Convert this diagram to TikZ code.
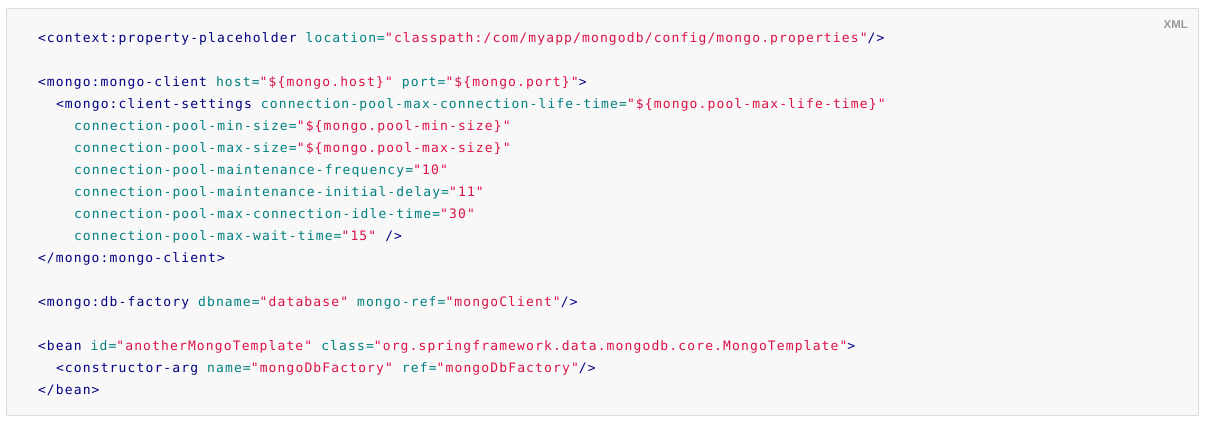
\documentclass[tikz,border=0pt]{standalone}
\usepackage{fontspec}
\usepackage{xcolor}
\newfontfamily\codefont[LetterSpace=8.7]{DejaVu Sans Mono}
\newfontfamily\tagfont{Liberation Sans}
\definecolor{xmltag}{HTML}{000080}
\definecolor{xmlattr}{HTML}{008080}
\definecolor{xmlstr}{HTML}{DD1144}
\definecolor{codebg}{HTML}{F8F8F8}
\definecolor{codeframe}{HTML}{DDDDDD}
\newcommand\xtag[1]{\textcolor{xmltag}{#1}}
\newcommand\xattr[1]{\textcolor{xmlattr}{#1}}
\newcommand\xstr[1]{\textcolor{xmlstr}{#1}}
\begin{document}
\begin{tikzpicture}[x=1pt,y=-1pt]
\tikzset{ codeline/.style={anchor=base west, inner sep=0pt, outer sep=0pt, font=\codefont\fontsize{13}{14}\selectfont} }

\useasboundingbox (0,0) rectangle (1205,423);

%%% Fundo
\draw [codeframe, fill=codebg] (6.5,8.5) rectangle (1198.5,415.5);
\node [anchor=base east, inner sep=0pt, text=black!40, font=\tagfont\bfseries\fontsize{11.4}{12}\selectfont] (lang) at (1188,28) {XML};

%%% Linhas

% property placeholder
\node [codeline] (l0) at (38,42) {\xtag{<context:property-placeholder} \xattr{location=}\xstr{"classpath:/com/myapp/mongodb/config/mongo.properties"}\xtag{/>}};

% mongo client
\node [codeline] (l2) at (38,86) {\xtag{<mongo:mongo-client} \xattr{host=}\xstr{"\$\{mongo.host\}"} \xattr{port=}\xstr{"\$\{mongo.port\}"}\xtag{>}};
\node [codeline] (l3) at (56,108) {\xtag{<mongo:client-settings} \xattr{connection-pool-max-connection-life-time=}\xstr{"\$\{mongo.pool-max-life-time\}"}};
\node [codeline] (l4) at (74,130) {\xattr{connection-pool-min-size=}\xstr{"\$\{mongo.pool-min-size\}"}};
\node [codeline] (l5) at (74,152) {\xattr{connection-pool-max-size=}\xstr{"\$\{mongo.pool-max-size\}"}};
\node [codeline] (l6) at (74,174) {\xattr{connection-pool-maintenance-frequency=}\xstr{"10"}};
\node [codeline] (l7) at (74,196) {\xattr{connection-pool-maintenance-initial-delay=}\xstr{"11"}};
\node [codeline] (l8) at (74,218) {\xattr{connection-pool-max-connection-idle-time=}\xstr{"30"}};
\node [codeline] (l9) at (74,240) {\xattr{connection-pool-max-wait-time=}\xstr{"15"} \xtag{/>}};
\node [codeline] (l10) at (38,262) {\xtag{</mongo:mongo-client>}};

% db factory
\node [codeline] (l12) at (38,306) {\xtag{<mongo:db-factory} \xattr{dbname=}\xstr{"database"} \xattr{mongo-ref=}\xstr{"mongoClient"}\xtag{/>}};

% template
\node [codeline] (l14) at (38,350) {\xtag{<bean} \xattr{id=}\xstr{"anotherMongoTemplate"} \xattr{class=}\xstr{"org.springframework.data.mongodb.core.MongoTemplate"}\xtag{>}};
\node [codeline] (l15) at (56,372) {\xtag{<constructor-arg} \xattr{name=}\xstr{"mongoDbFactory"} \xattr{ref=}\xstr{"mongoDbFactory"}\xtag{/>}};
\node [codeline] (l16) at (38,394) {\xtag{</bean>}};

\end{tikzpicture}
\end{document}
